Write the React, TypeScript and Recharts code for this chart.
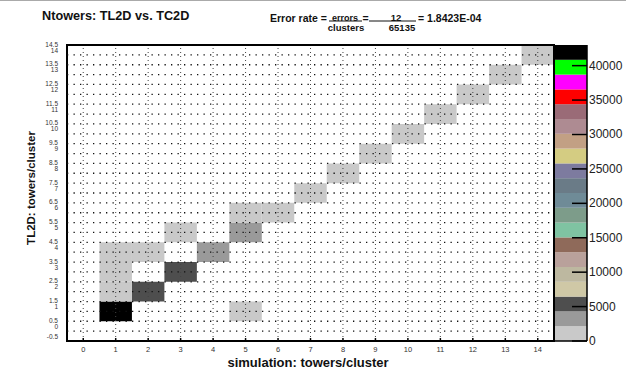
import React from 'react';
import { ScatterChart, Scatter, XAxis, YAxis, ReferenceArea, ReferenceLine, BarChart, Bar } from 'recharts';

// ---- data ----
const cellX = [1, 2, 3, 4, 5, 6, 7, 8, 9, 10, 11, 12, 13, 14, 1, 1, 1, 2, 3, 5, 5];
const cellY = [1, 2, 3, 4, 5, 6, 7, 8, 9, 10, 11, 12, 13, 14, 2, 3, 4, 4, 5, 1, 6];
const cellCount = [43000, 5900, 5500, 3300, 2900, 1850, 1100, 700, 400, 250, 120, 60, 30, 13, 3, 2, 1, 1, 2, 1, 2];

const xTicks = [0, 1, 2, 3, 4, 5, 6, 7, 8, 9, 10, 11, 12, 13, 14];
const yEdgeTicks = [-0.5, 0.5, 1.5, 2.5, 3.5, 4.5, 5.5, 6.5, 7.5, 8.5, 9.5, 10.5, 11.5, 12.5, 13.5, 14.5];
const hGridValues = [0, 0.5, 1, 1.5, 2, 2.5, 3, 3.5, 4, 4.5, 5, 5.5, 6, 6.5, 7, 7.5, 8, 8.5, 9, 9.5, 10, 10.5, 11, 11.5, 12, 12.5, 13, 13.5, 14];
const vGridValues = [0, 1, 2, 3, 4, 5, 6, 7, 8, 9, 10, 11, 12, 13, 14];

const ZMAX = 43000;
const colorBarTicks = [0, 5000, 10000, 15000, 20000, 25000, 30000, 35000, 40000];
const palette = [
  '#c9c9c9', '#9a9a9a', '#4e4e4e', '#cfc8a6', '#bdb8a0', '#b9a19b', '#8f6a5a', '#7fc3a2',
  '#7d9c8a', '#6f8b97', '#6a7b87', '#7d7b9f', '#d4cc82', '#c2a084', '#ae8b92', '#9a6b77',
  '#ff0000', '#ff00ff', '#00ff00', '#000000',
];

const title = 'Ntowers: TL2D vs. TC2D';
const xTitle = 'simulation: towers/cluster';
const yTitle = 'TL2D: towers/cluster';
const errorsCount = 12;
const clustersCount = 65135;

const FONT = '"Liberation Sans", Arial, Helvetica, sans-serif';

const bandSize = ZMAX / palette.length;
const colorFor = (v: number) => palette[Math.min(palette.length - 1, Math.floor(v / bandSize))];

const cells = cellX.map((x, i) => ({ x, y: cellY[i], z: cellCount[i] }));
const colorBarRow: Record<string, number | string> = { name: 'z' };
palette.forEach((_, i) => { colorBarRow['b' + i] = bandSize; });

const XTick = (props: any) => {
  const { x, y, payload } = props;
  return (
    <text x={x} y={y + 11} textAnchor="middle" fontSize={7.5} fill="#333" fontFamily={FONT}>
      {payload.value}
    </text>
  );
};

const YTick = (props: any) => {
  const { x, y, payload } = props;
  const v = payload.value as number;
  const tx = x - 9;
  if (v < 0) {
    return (
      <text x={tx} y={y - 2.5} textAnchor="end" fontSize={6.5} fill="#333" fontFamily={FONT}>
        {String(v)}
      </text>
    );
  }
  return (
    <g>
      <text x={tx} y={y + 1.5} textAnchor="end" fontSize={6.5} fill="#333" fontFamily={FONT}>
        {String(v)}
      </text>
      <text x={tx} y={y + 7.5} textAnchor="end" fontSize={6.5} fill="#333" fontFamily={FONT}>
        {String(v - 0.5)}
      </text>
    </g>
  );
};

const CbTick = (props: any) => {
  const { x, y, payload } = props;
  return (
    <g>
      <line x1={x - 15} y1={y} x2={x} y2={y} stroke="#000" strokeWidth={1.5} />
      <text x={x + 2} y={y + 4} fontSize={12} fill="#222" fontFamily={FONT}>
        {payload.value}
      </text>
    </g>
  );
};

export default function App() {
  const errRate = (errorsCount / clustersCount).toExponential(4).replace('e-', 'E-0');
  return (
    <div style={{ position: 'absolute', left: 0, top: 0, width: 626, height: 373, background: '#fff', overflow: 'hidden', fontFamily: FONT }}>
      <div style={{ position: 'absolute', left: 0, top: 0, width: 626, height: 1, background: '#aaa' }} />
      <div style={{ position: 'absolute', left: 0, top: 0 }}>
        <ScatterChart width={626} height={373} margin={{ top: 45, right: 72, bottom: 0, left: 0 }}>
          <XAxis type="number" dataKey="x" domain={[-0.5, 14.5]} ticks={xTicks} interval={0} allowDataOverflow
            height={32} tickLine={false} axisLine={false} tickSize={0} tickMargin={0} tick={<XTick />} />
          <YAxis type="number" dataKey="y" domain={[-0.5, 14.5]} ticks={yEdgeTicks} interval={0} allowDataOverflow
            width={67} tickLine={false} axisLine={false} tickSize={0} tickMargin={0} tick={<YTick />} />
          {cells.map((c, i) => (
            <ReferenceArea key={'c' + i} x1={c.x - 0.5} x2={c.x + 0.5} y1={c.y - 0.5} y2={c.y + 0.5}
              fill={colorFor(c.z)} fillOpacity={1} stroke="none" ifOverflow="visible" />
          ))}
          {hGridValues.map((v) => (
            <ReferenceLine key={'h' + v} y={v} stroke="#111" strokeWidth={1.3} strokeDasharray="1.3 5.2" />
          ))}
          {vGridValues.map((v) => (
            <ReferenceLine key={'v' + v} x={v} stroke="#444" strokeWidth={1} strokeDasharray="1 3" />
          ))}
          {xTicks.map((v) => (
            <ReferenceLine key={'t' + v} segment={[{ x: v, y: -0.5 }, { x: v, y: -0.35 }]} stroke="#000" strokeWidth={1.5} />
          ))}
          <ReferenceArea x1={-0.5} x2={14.5} y1={-0.5} y2={14.5} fill="none" stroke="#000" strokeWidth={2} ifOverflow="visible" />
          <Scatter data={cells} isAnimationActive={false} shape={() => <g />} />
        </ScatterChart>
      </div>
      <div style={{ position: 'absolute', left: 555, top: 0 }}>
        <BarChart width={71} height={373} data={[colorBarRow]} margin={{ top: 45, right: 0, bottom: 32, left: 0 }}
          barCategoryGap={0} barGap={0}>
          <XAxis dataKey="name" hide />
          <YAxis orientation="right" type="number" domain={[0, ZMAX]} ticks={colorBarTicks} interval={0} allowDataOverflow
            width={39} tickLine={false} axisLine={{ stroke: '#000', strokeWidth: 1.5 }} tickSize={0} tickMargin={0} tick={<CbTick />} />
          {palette.map((col, i) => (
            <Bar key={'b' + i} dataKey={'b' + i} stackId="cb" fill={col} isAnimationActive={false} />
          ))}
          <ReferenceLine y={0} stroke="#000" strokeWidth={1.5} />
        </BarChart>
      </div>
      <svg width={626} height={373} style={{ position: 'absolute', left: 0, top: 0, pointerEvents: 'none' }}>
        <text x={42} y={20} fontSize={12.7} fontWeight="bold" fill="#111" fontFamily={FONT}>{title}</text>
        <text x={270} y={22} fontSize={10.5} fontWeight="bold" fill="#111" fontFamily={FONT}>Error rate =</text>
        <line x1={329} y1={21} x2={362} y2={21} stroke="#111" strokeWidth={1} />
        <text x={345} y={20.5} fontSize={9} fontWeight="bold" fill="#111" textAnchor="middle" fontFamily={FONT}>errors</text>
        <text x={346} y={30.5} fontSize={9.5} fontWeight="bold" fill="#111" textAnchor="middle" fontFamily={FONT}>clusters</text>
        <text x={362.5} y={22} fontSize={10.5} fontWeight="bold" fill="#111" fontFamily={FONT}>=</text>
        <line x1={369} y1={21} x2={416} y2={21} stroke="#111" strokeWidth={1} />
        <text x={396} y={20.5} fontSize={9.5} fontWeight="bold" fill="#111" textAnchor="middle" fontFamily={FONT}>{errorsCount}</text>
        <text x={402} y={30.5} fontSize={9.5} fontWeight="bold" fill="#111" textAnchor="middle" fontFamily={FONT}>{clustersCount}</text>
        <text x={418} y={22} fontSize={10.5} fontWeight="bold" fill="#111" fontFamily={FONT}>= {errRate}</text>
        <text x={308} y={367} fontSize={13} fontWeight="bold" fill="#111" textAnchor="middle" fontFamily={FONT}>{xTitle}</text>
        <text x={0} y={0} fontSize={11.5} fontWeight="bold" fill="#111" textAnchor="middle" fontFamily={FONT}
          transform="translate(35,188) rotate(-90)">{yTitle}</text>
      </svg>
    </div>
  );
}
